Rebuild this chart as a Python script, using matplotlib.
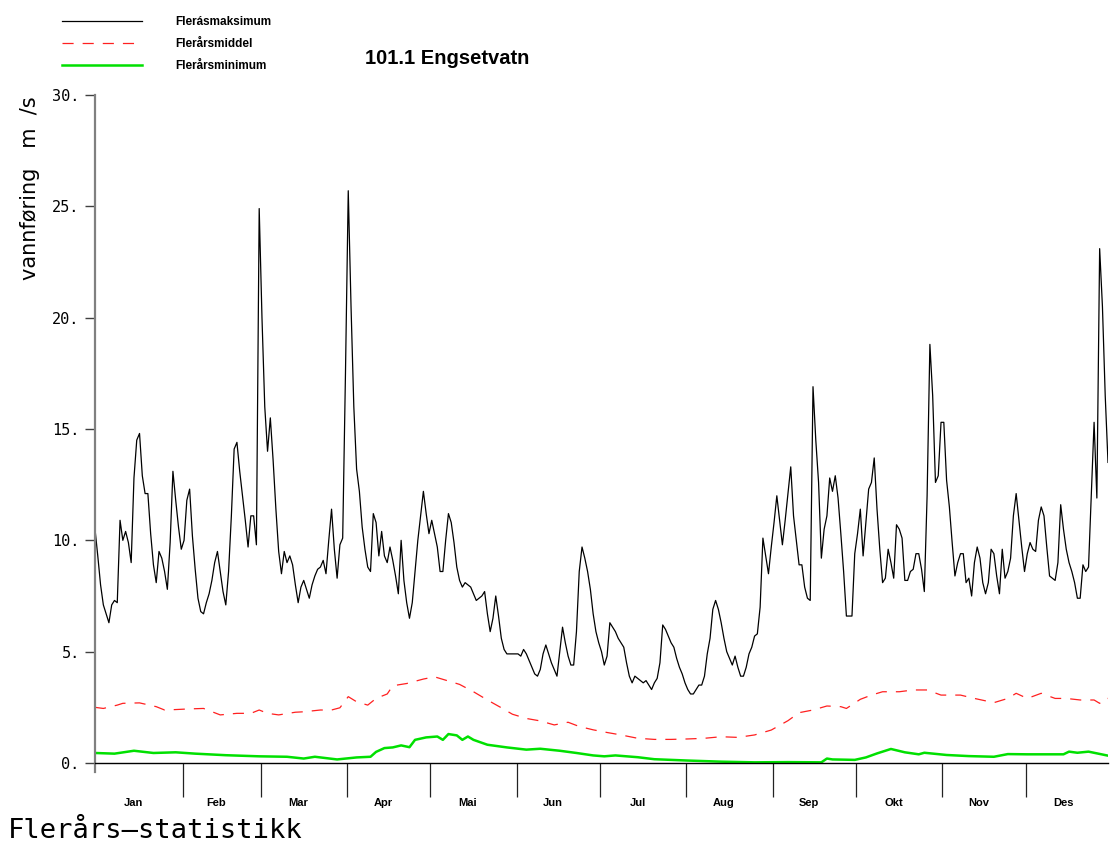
import numpy as np
import matplotlib
matplotlib.use("Agg")
import matplotlib.pyplot as plt

plt.rcParams["lines.scale_dashes"] = False

# ---- data ----
max_vals = [
    10.5, 9.3, 8.0, 7.1, 6.7, 6.3, 7.1, 7.3, 7.2, 10.9,
    10.0, 10.4, 9.9, 9.0, 12.8, 14.5, 14.8, 12.9, 12.1, 12.1,
    10.3, 8.9, 8.1, 9.5, 9.2, 8.6, 7.8, 9.9, 13.1, 11.8,
    10.6, 9.6, 10.0, 11.8, 12.3, 10.2, 8.7, 7.4, 6.8, 6.7,
    7.2, 7.6, 8.2, 9.0, 9.5, 8.6, 7.7, 7.1, 8.6, 11.1,
    14.1, 14.4, 13.1, 12.0, 10.9, 9.7, 11.1, 11.1, 9.8, 24.9,
    20.0, 16.0, 14.0, 15.5, 13.6, 11.4, 9.5, 8.5, 9.5, 9.0,
    9.3, 8.9, 8.0, 7.2, 7.9, 8.2, 7.8, 7.4, 8.0, 8.4,
    8.7, 8.8, 9.1, 8.5, 10.0, 11.4, 9.6, 8.3, 9.8, 10.1,
    17.5, 25.7, 20.5, 16.0, 13.2, 12.2, 10.6, 9.6, 8.8, 8.6,
    11.2, 10.8, 9.3, 10.4, 9.3, 9.0, 9.7, 9.1, 8.4, 7.6,
    10.0, 8.2, 7.2, 6.5, 7.2, 8.6, 10.0, 11.1, 12.2, 11.2,
    10.3, 10.9, 10.3, 9.7, 8.6, 8.6, 10.0, 11.2, 10.8, 9.9,
    8.8, 8.2, 7.9, 8.1, 8.0, 7.9, 7.6, 7.3, 7.4, 7.5,
    7.7, 6.7, 5.9, 6.5, 7.5, 6.6, 5.6, 5.1, 4.9, 4.9,
    4.9, 4.9, 4.9, 4.8, 5.1, 4.9, 4.6, 4.3, 4.0, 3.9,
    4.2, 4.9, 5.3, 4.9, 4.5, 4.2, 3.9, 5.0, 6.1, 5.4,
    4.8, 4.4, 4.4, 5.9, 8.6, 9.7, 9.2, 8.6, 7.8, 6.7,
    5.9, 5.4, 5.0, 4.4, 4.8, 6.3, 6.1, 5.9, 5.6, 5.4,
    5.2, 4.5, 3.9, 3.6, 3.9, 3.8, 3.7, 3.6, 3.7, 3.5,
    3.3, 3.6, 3.8, 4.5, 6.2, 6.0, 5.7, 5.4, 5.2, 4.7,
    4.3, 4.0, 3.6, 3.3, 3.1, 3.1, 3.3, 3.5, 3.5, 3.9,
    4.9, 5.6, 6.9, 7.3, 6.9, 6.3, 5.6, 5.0, 4.7, 4.4,
    4.8, 4.3, 3.9, 3.9, 4.3, 4.9, 5.2, 5.7, 5.8, 7.0,
    10.1, 9.3, 8.5, 9.7, 10.8, 12.0, 10.9, 9.8, 10.9, 12.1,
    13.3, 11.1, 10.0, 8.9, 8.9, 7.9, 7.4, 7.3, 16.9, 14.5,
    12.6, 9.2, 10.5, 11.1, 12.8, 12.2, 12.9, 11.9, 10.3, 8.6,
    6.6, 6.6, 6.6, 9.4, 10.3, 11.4, 9.3, 10.8, 12.3, 12.6,
    13.7, 11.4, 9.6, 8.1, 8.3, 9.6, 9.0, 8.3, 10.7, 10.5,
    10.1, 8.2, 8.2, 8.6, 8.7, 9.4, 9.4, 8.7, 7.7, 12.0,
    18.8, 16.5, 12.6, 12.9, 15.3, 15.3, 12.7, 11.5, 9.9, 8.4,
    9.0, 9.4, 9.4, 8.1, 8.3, 7.5, 9.0, 9.7, 9.2, 8.1,
    7.6, 8.1, 9.6, 9.4, 8.4, 7.6, 9.6, 8.3, 8.6, 9.2,
    11.1, 12.1, 10.9, 9.7, 8.6, 9.4, 9.9, 9.6, 9.5, 10.9,
    11.5, 11.1, 9.7, 8.4, 8.3, 8.2, 9.0, 11.6, 10.5, 9.6,
    9.0, 8.6, 8.1, 7.4, 7.4, 8.9, 8.6, 8.8, 12.1, 15.3,
    11.9, 23.1, 20.5, 16.5, 13.5,
]
max_days = np.arange(1, len(max_vals) + 1)

mean_days = [1, 4, 9, 11, 17, 23, 26, 30, 35, 40,
             46, 52, 57, 60, 63, 67, 73, 76, 82, 86,
             89, 92, 95, 99, 102, 106, 108, 113, 119, 123,
             127, 132, 137, 142, 147, 151, 156, 161, 166, 171,
             175, 180, 185, 190, 196, 202, 208, 214, 220, 226,
             232, 238, 244, 250, 254, 259, 264, 269, 271, 276,
             280, 284, 290, 295, 300, 305, 312, 317, 324, 329,
             332, 336, 341, 346, 350, 355, 360, 362, 364, 365]
mean_vals = [2.5, 2.45, 2.6, 2.68, 2.7, 2.53, 2.38, 2.4, 2.43, 2.45,
             2.16, 2.23, 2.23, 2.38, 2.23, 2.16, 2.28, 2.3, 2.38, 2.38,
             2.48, 2.98, 2.75, 2.6, 2.9, 3.1, 3.47, 3.57, 3.77, 3.87,
             3.72, 3.53, 3.2, 2.83, 2.48, 2.19, 2.0, 1.89, 1.71, 1.83,
             1.64, 1.49, 1.37, 1.26, 1.11, 1.06, 1.06, 1.08, 1.11, 1.18,
             1.15, 1.26, 1.48, 1.9, 2.26, 2.38, 2.56, 2.53, 2.45, 2.86,
             3.05, 3.2, 3.2, 3.28, 3.28, 3.05, 3.05, 2.9, 2.71, 2.9,
             3.13, 2.9, 3.13, 2.9, 2.9, 2.83, 2.83, 2.68, 2.9, 2.9]

min_days = [1, 8, 15, 22, 30, 37, 48, 60, 70, 76,
            80, 88, 95, 100, 102, 105, 108, 111, 114, 116,
            120, 124, 126, 128, 131, 133, 135, 137, 142, 149,
            156, 161, 168, 174, 180, 184, 188, 196, 202, 214,
            226, 238, 250, 262, 264, 266, 274, 278, 282, 287,
            292, 297, 299, 307, 315, 324, 329, 336, 349, 351,
            354, 358, 365]
min_vals = [0.45, 0.42, 0.55, 0.45, 0.48, 0.42, 0.35, 0.3, 0.28, 0.2,
            0.28, 0.16, 0.25, 0.28, 0.5, 0.67, 0.7, 0.79, 0.71, 1.04,
            1.15, 1.19, 1.04, 1.3, 1.24, 1.04, 1.19, 1.04, 0.82, 0.7,
            0.6, 0.64, 0.55, 0.45, 0.34, 0.3, 0.34, 0.26, 0.17, 0.11,
            0.06, 0.03, 0.04, 0.03, 0.2, 0.16, 0.14, 0.25, 0.43, 0.63,
            0.48, 0.39, 0.46, 0.36, 0.31, 0.28, 0.4, 0.39, 0.39, 0.51,
            0.46, 0.51, 0.33]

months = ["Jan", "Feb", "Mar", "Apr", "Mai", "Jun",
          "Jul", "Aug", "Sep", "Okt", "Nov", "Des"]
month_len = [31, 28, 31, 30, 31, 30, 31, 31, 30, 31, 30, 31]
y_ticks = [0, 5, 10, 15, 20, 25, 30]

NARROW = ["Liberation Sans", "DejaVu Sans"]

# ---- figure ----
W, H = 1112, 849
fig = plt.figure(figsize=(W / 100, H / 100), dpi=100)
ax = fig.add_axes([95 / W, 1 - 763 / H, (1108 - 95) / W, (763 - 95) / H])

l_max, = ax.plot(max_days, max_vals, color="black", lw=0.9,
                 label="Flerásmaksimum")
l_mean, = ax.plot(mean_days, mean_vals, color="#ff2020", lw=0.9,
                  dashes=(8, 6.5), label="Flerårsmiddel")
l_min, = ax.plot(min_days, min_vals, color="#00e000", lw=1.8,
                 label="Flerårsminimum")

ax.set_xlim(1, 365)
ax.set_ylim(0, 30)

for s in ["top", "right"]:
    ax.spines[s].set_visible(False)
ax.spines["left"].set_color("#808080")
ax.spines["left"].set_linewidth(1.6)
ax.spines["left"].set_bounds(-0.4, 30)
ax.spines["bottom"].set_color("black")
ax.spines["bottom"].set_linewidth(1.0)

# y ticks
ax.set_yticks(y_ticks)
ax.set_yticklabels([f"{v}." for v in y_ticks], family="DejaVu Sans Mono",
                   fontsize=11)
ax.tick_params(axis="y", direction="out", length=7, width=1,
               color="#404040", pad=4)

# x: month boundaries as long ticks, names at mid-month
starts = np.cumsum([1] + month_len[:-1])
ax.set_xticks(starts[1:] + 0.5)
ax.set_xticklabels([])
ax.tick_params(axis="x", which="major", direction="out", length=24.5,
               width=0.9, color="#222222")
mids = starts + np.array(month_len) / 2 - 1.5
ax.set_xticks(mids, minor=True)
ax.set_xticklabels(months, minor=True, family=NARROW,
                   fontweight="bold", fontsize=8)
ax.tick_params(axis="x", which="minor", length=0, pad=25)

# legend
fig.legend(handles=[l_max, l_mean, l_min], loc="upper left",
           bbox_to_anchor=(62 / W, 1 - 16 / H), frameon=False,
           borderpad=0, borderaxespad=0, handlelength=6.8,
           handletextpad=2.8, labelspacing=0.85,
           prop={"family": NARROW, "weight": "bold", "size": 8.5})

fig.text(447 / W, 1 - 58 / H, "101.1 Engsetvatn", ha="center", va="center",
         fontsize=14.5, fontweight="bold", family="Liberation Sans")
fig.text(30 / W, 1 - 188 / H, "vannføring   m  /s", rotation=90,
         ha="center", va="center", fontsize=15, family="DejaVu Sans")
fig.text(8 / W, 1 - 831 / H, "Flerårs—statistikk", ha="left", va="center",
         fontsize=19.5, family="DejaVu Sans Mono")

fig.savefig("out.png", dpi=100)
